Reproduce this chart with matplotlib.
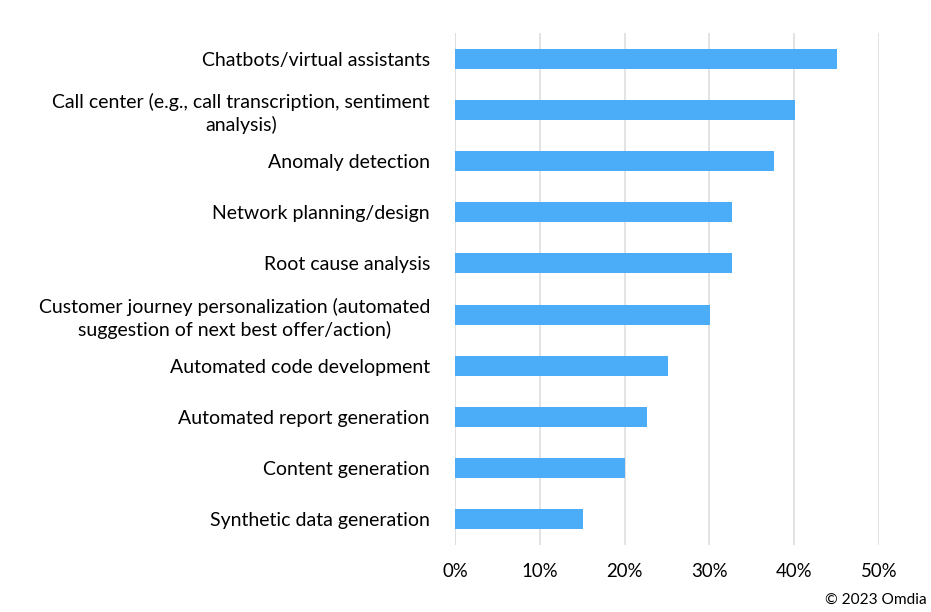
import matplotlib.pyplot as plt
from matplotlib.ticker import PercentFormatter
from matplotlib.transforms import offset_copy

plt.rcParams['font.family'] = ['Lato', 'DejaVu Sans']

# categories, top to bottom as shown
categories = [
    "Chatbots/virtual assistants",
    "Call center (e.g., call transcription, sentiment\nanalysis)",
    "Anomaly detection",
    "Network planning/design",
    "Root cause analysis",
    "Customer journey personalization (automated\nsuggestion of next best offer/action)",
    "Automated code development",
    "Automated report generation",
    "Content generation",
    "Synthetic data generation",
]
shares = [45.1, 40.1, 37.6, 32.7, 32.7, 30.1, 25.1, 22.6, 20.0, 15.1]
xticks = [0, 10, 20, 30, 40, 50]

fig = plt.figure(figsize=(9.31, 6.12), dpi=100)
ax = fig.add_axes([455 / 931, 1 - 545 / 612, (879 - 455) / 931, (545 - 33) / 612])

ypos = list(range(len(categories)))
ax.barh(ypos, shares, height=0.39, color='#4BACF7', zorder=3)

ax.set_xlim(0, 50)
ax.set_ylim(len(categories) - 0.5, -0.5)
ax.set_xticks(xticks)
ax.xaxis.set_major_formatter(PercentFormatter(decimals=0))
ax.set_yticks(ypos)
ax.set_yticklabels(categories, ha='center', multialignment='center', linespacing=1.3)
ax.tick_params(axis='y', length=0, labelsize=14, pad=0)
ax.tick_params(axis='x', length=0, labelsize=13.4, pad=13, colors='#000000')

# labels are centred blocks sharing a right edge at x=430px
fig.canvas.draw()
renderer = fig.canvas.get_renderer()
right_px = 430
for lbl in ax.get_yticklabels():
    w = lbl.get_window_extent(renderer).width
    lbl.set_transform(offset_copy(ax.get_yaxis_transform(), fig=fig,
                                  x=(right_px - 455 - w / 2), units='dots'))

ax.grid(axis='x', color='#e0e0e0', linewidth=1.3, zorder=0)
for s in ax.spines.values():
    s.set_visible(False)
ax.axvline(0, color='#d0d0d0', linewidth=1.3, zorder=1)

fig.text(927 / 931, 1 - 600 / 612, "\u00a9 2023 Omdia", ha='right', va='center', fontsize=11.1)

fig.savefig('out.png', dpi=100)
